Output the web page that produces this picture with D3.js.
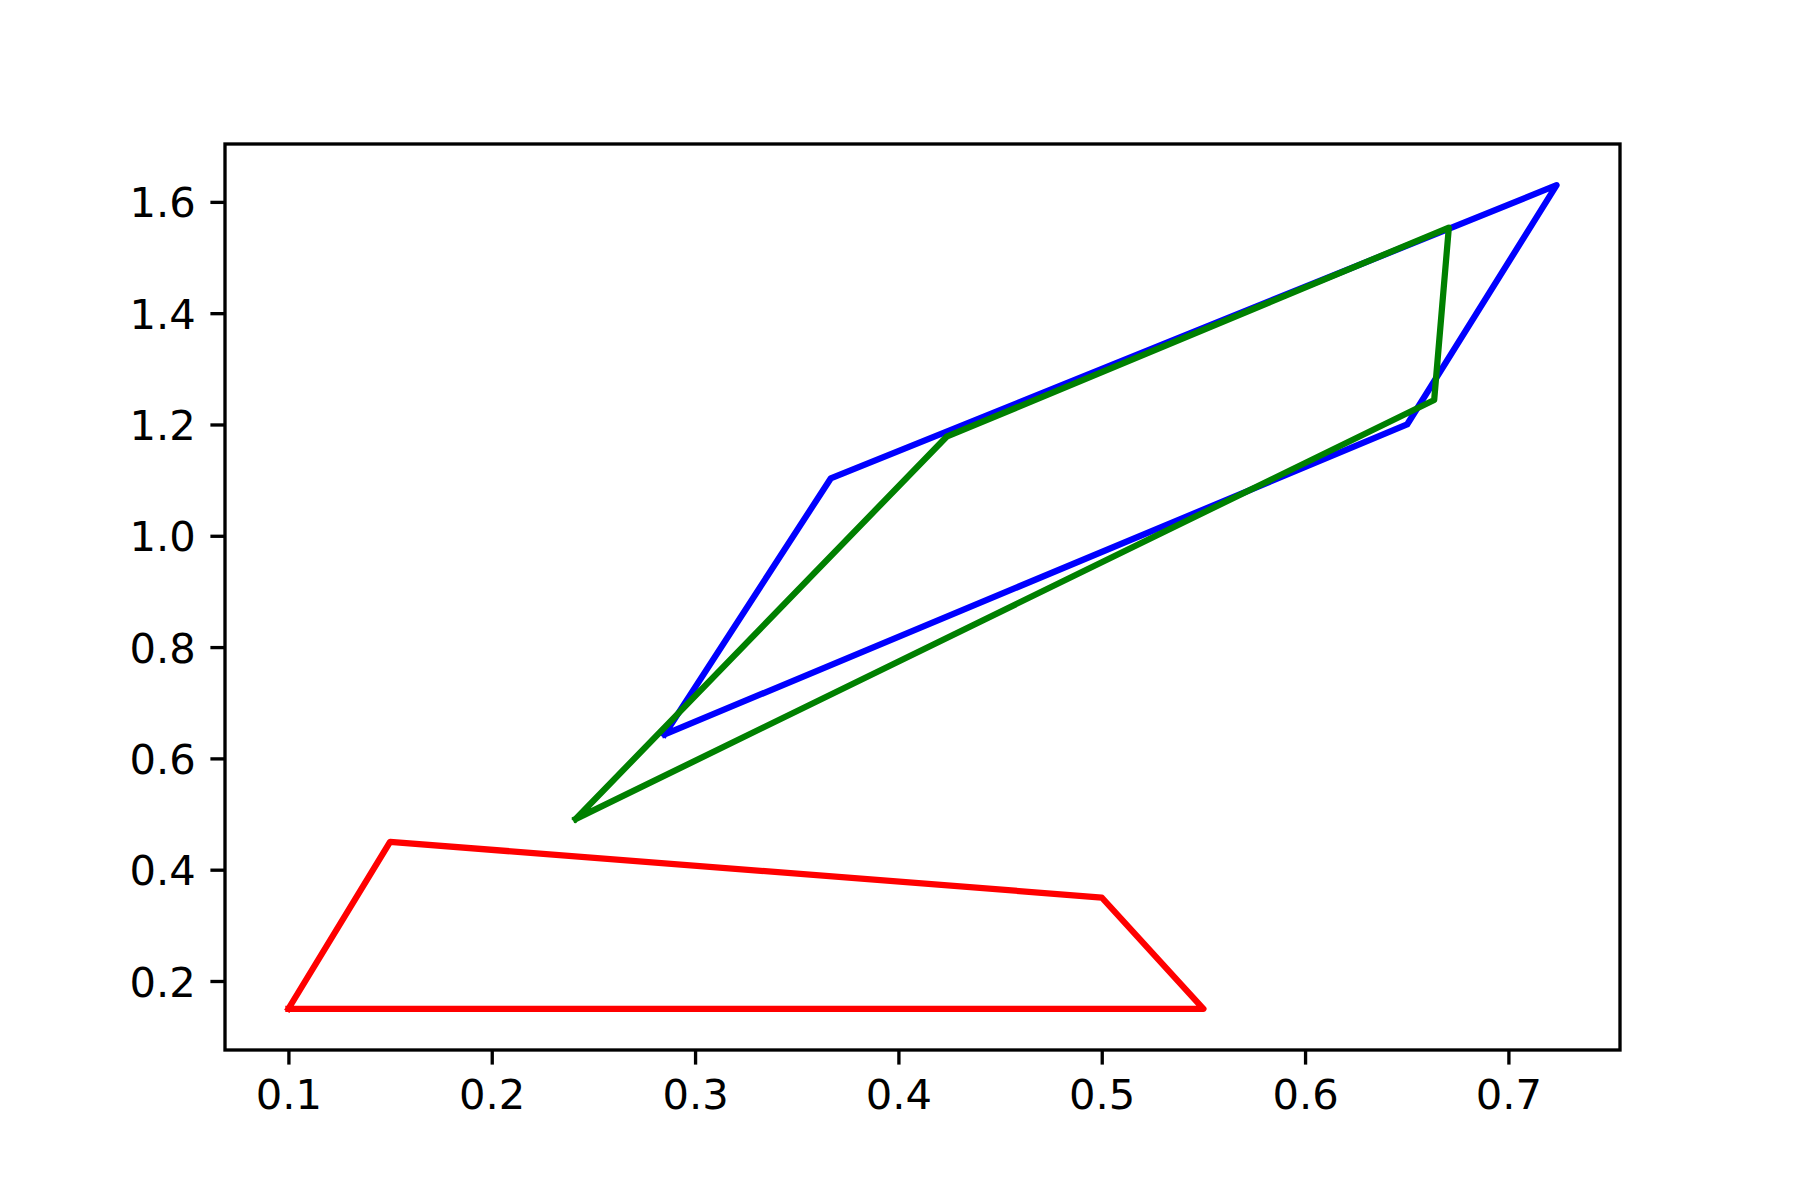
<!DOCTYPE html>
<html>
<head>
<meta charset="utf-8">
<script src="https://cdn.jsdelivr.net/npm/d3@7"></script>
<style>
    body { margin: 0; background: #fff; }
    #chart { width: 1800px; height: 1200px; }
    .tick text { font-family: "DejaVu Sans", sans-serif; font-size: 41.67px; fill: #000; }
</style>
</head>
<body>
<div id="chart"></div>
<script>
//Datos de los tres polígonos (cerrados, el último punto repite el primero)
const redX = [0.1, 0.15, 0.5, 0.55, 0.1];
const redY = [0.15, 0.45, 0.35, 0.15, 0.15];

const blueX = [0.285, 0.3667, 0.7237, 0.6502, 0.285];
const blueY = [0.643, 1.103, 1.630, 1.200, 0.643];

const greenX = [0.2413, 0.4237, 0.6707, 0.6635, 0.2413];
const greenY = [0.491, 1.178, 1.5537, 1.244, 0.491];

const xTicks = [0.1, 0.2, 0.3, 0.4, 0.5, 0.6, 0.7];
const yTicks = [0.2, 0.4, 0.6, 0.8, 1.0, 1.2, 1.4, 1.6];

//Colores fijos
const COLOR_RED = '#ff0000', COLOR_BLUE = '#0000ff', COLOR_GREEN = '#008000';

let series = [
    { xs: redX, ys: redY, color: COLOR_RED },
    { xs: blueX, ys: blueY, color: COLOR_BLUE },
    { xs: greenX, ys: greenY, color: COLOR_GREEN }
];

///Márgenes (como en matplotlib, figura 6x4 a 300 dpi)
let margin = {top: 144, right: 180, bottom: 150, left: 225},
    width = 1800 - margin.left - margin.right,
    height = 1200 - margin.top - margin.bottom;

let svg = d3.select('#chart')
    .append('svg')
        .attr('width', 1800)
        .attr('height', 1200)
    .append('g')
        .attr('transform', 'translate(' + margin.left + ',' + margin.top + ')');

//Dominios con un 5% de margen
let allX = [].concat(redX, blueX, greenX), allY = [].concat(redY, blueY, greenY);
let xExt = d3.extent(allX), yExt = d3.extent(allY);
let xPad = (xExt[1] - xExt[0]) * 0.05, yPad = (yExt[1] - yExt[0]) * 0.05;

let x = d3.scaleLinear()
    .domain([xExt[0] - xPad, xExt[1] + xPad])
    .range([0, width]);

let y = d3.scaleLinear()
    .domain([yExt[0] - yPad, yExt[1] + yPad])
    .range([height, 0]);

let tickLen = 14.6, tickW = 3.33;

let xAxis = svg.append('g')
    .attr('transform', 'translate(0,' + height + ')')
    .call(d3.axisBottom(x).tickValues(xTicks).tickFormat(d3.format('.1f')).tickSize(tickLen).tickSizeOuter(0).tickPadding(14.6));

let yAxis = svg.append('g')
    .call(d3.axisLeft(y).tickValues(yTicks).tickFormat(d3.format('.1f')).tickSize(tickLen).tickSizeOuter(0).tickPadding(14.6));

[xAxis, yAxis].forEach(function(a) {
    a.select('.domain').remove();
    a.selectAll('.tick line').attr('stroke', '#000').attr('stroke-width', tickW);
    a.attr('font-family', null).attr('font-size', null);
});
yAxis.selectAll('.tick text').attr('dy', '0.36em');

//Líneas
let line = d3.line()
    .x(function(d) { return x(d[0]); })
    .y(function(d) { return y(d[1]); });

svg.append('g')
    .selectAll('path')
    .data(series)
    .enter()
    .append('path')
    .attr('d', function(s) { return line(s.xs.map(function(v, i) { return [v, s.ys[i]]; })); })
    .attr('fill', 'none')
    .attr('stroke', function(s) { return s.color; })
    .attr('stroke-width', 6.25)
    .attr('stroke-linejoin', 'round')
    .attr('stroke-linecap', 'square');

//Marco de los ejes
svg.append('rect')
    .attr('x', 0)
    .attr('y', 0)
    .attr('width', width)
    .attr('height', height)
    .attr('fill', 'none')
    .attr('stroke', '#000')
    .attr('stroke-width', tickW);
</script>
</body>
</html>
